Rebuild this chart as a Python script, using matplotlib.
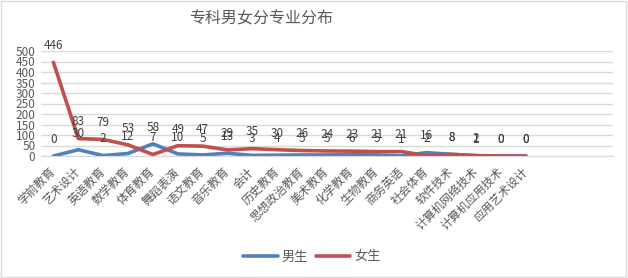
import matplotlib
matplotlib.use("Agg")
import matplotlib.pyplot as plt
from matplotlib.patches import Rectangle

plt.rcParams['font.family'] = ['Noto Sans CJK SC', 'DejaVu Sans']

majors = ['学前教育', '艺术设计', '英语教育', '数学教育', '体育教育', '舞蹈表演',
          '语文教育', '音乐教育', '会计', '历史教育', '思想政治教育', '美术教育',
          '化学教育', '生物教育', '商务英语', '社会体育', '软件技术',
          '计算机网络技术', '计算机应用技术', '应用艺术设计']
male = [0, 30, 2, 12, 58, 10, 5, 13, 3, 4, 5, 5, 6, 5, 1, 16, 8, 1, 0, 0]
female = [446, 83, 79, 53, 7, 49, 47, 29, 35, 30, 26, 24, 23, 21, 21, 2, 8, 2, 0, 0]
y_ticks = [0, 50, 100, 150, 200, 250, 300, 350, 400, 450, 500]

blue = '#4F81BD'
red = '#C0504D'
gray_text = '#595959'
grid_col = '#D9D9D9'

fig = plt.figure(figsize=(6.28, 2.78), dpi=100)
ax = fig.add_axes([41 / 628, 1 - 156 / 278, (613 - 41) / 628, (156 - 51) / 278])

x = list(range(len(majors)))
ax.plot(x, male, color=blue, lw=2.6, label='男生', solid_capstyle='round')
ax.plot(x, female, color=red, lw=2.6, label='女生', solid_capstyle='round')

# data labels above each point
for xi, m, f in zip(x, male, female):
    for v in (m, f):
        ax.annotate(str(v), (xi, v), xytext=(0, 12), textcoords='offset points',
                    ha='center', va='center', fontsize=8.5, color='#404040')

ax.set_xlim(-0.5, 22.5)
ax.set_ylim(0, 500)
ax.set_yticks(y_ticks)
ax.set_yticklabels([str(t) for t in y_ticks], fontsize=8.5, color=gray_text)
ax.set_xticks(x)
ax.set_xticklabels(majors, rotation=45, ha='right', va='center', rotation_mode='anchor',
                   fontsize=8.5, color=gray_text)
ax.tick_params(axis='both', length=0)
ax.tick_params(axis='x', pad=10)
ax.tick_params(axis='y', pad=4)
ax.grid(axis='y', color=grid_col, lw=1)
ax.set_axisbelow(True)
for s in ['top', 'right', 'left']:
    ax.spines[s].set_visible(False)
ax.spines['bottom'].set_color(grid_col)

fig.text(261 / 628, 1 - 19 / 278, '专科男女分专业分布', ha='center', va='center',
         fontsize=11.5, color=gray_text)

fig.legend(loc='center', bbox_to_anchor=(312 / 628, 1 - 257 / 278), ncol=2,
           frameon=False, fontsize=9.5, handlelength=2.6, columnspacing=0.6,
           handletextpad=0.3, labelcolor=gray_text)

fig.patches.append(Rectangle((0.001, 0.002), 0.996, 0.995, transform=fig.transFigure,
                             fill=False, edgecolor=grid_col, lw=1))

fig.savefig('out.png', dpi=100)
